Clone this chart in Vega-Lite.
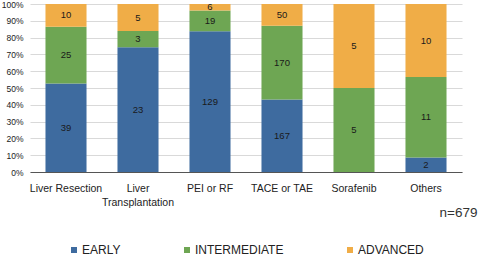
{
  "$schema": "https://vega.github.io/schema/vega-lite/v6.json",
  "width": 432,
  "height": 168,
  "autosize": "none",
  "padding": {"left": 30, "top": 4, "right": 16, "bottom": 84},
  "background": "white",
  "config": {
    "view": {"stroke": null},
    "font": "Liberation Sans"
  },
  "data": {
    "values": [
      {"treatment": "Liver Resection", "stage": "EARLY", "order": 1, "value": 39},
      {"treatment": "Liver Resection", "stage": "INTERMEDIATE", "order": 2, "value": 25},
      {"treatment": "Liver Resection", "stage": "ADVANCED", "order": 3, "value": 10},
      {"treatment": "Liver Transplantation", "stage": "EARLY", "order": 1, "value": 23},
      {"treatment": "Liver Transplantation", "stage": "INTERMEDIATE", "order": 2, "value": 3},
      {"treatment": "Liver Transplantation", "stage": "ADVANCED", "order": 3, "value": 5},
      {"treatment": "PEI or RF", "stage": "EARLY", "order": 1, "value": 129},
      {"treatment": "PEI or RF", "stage": "INTERMEDIATE", "order": 2, "value": 19},
      {"treatment": "PEI or RF", "stage": "ADVANCED", "order": 3, "value": 6},
      {"treatment": "TACE or TAE", "stage": "EARLY", "order": 1, "value": 167},
      {"treatment": "TACE or TAE", "stage": "INTERMEDIATE", "order": 2, "value": 170},
      {"treatment": "TACE or TAE", "stage": "ADVANCED", "order": 3, "value": 50},
      {"treatment": "Sorafenib", "stage": "EARLY", "order": 1, "value": 0},
      {"treatment": "Sorafenib", "stage": "INTERMEDIATE", "order": 2, "value": 5},
      {"treatment": "Sorafenib", "stage": "ADVANCED", "order": 3, "value": 5},
      {"treatment": "Others", "stage": "EARLY", "order": 1, "value": 2},
      {"treatment": "Others", "stage": "INTERMEDIATE", "order": 2, "value": 11},
      {"treatment": "Others", "stage": "ADVANCED", "order": 3, "value": 10}
    ]
  },
  "encoding": {
    "x": {
      "field": "treatment",
      "type": "nominal",
      "sort": null,
      "scale": {"paddingInner": 0.43, "paddingOuter": 0.215},
      "axis": {
        "title": "n=679",
        "titleFontSize": 13.5,
        "titleFontWeight": "normal",
        "titleColor": "#333333",
        "titleAnchor": "end",
        "titleAlign": "right",
        "titleBaseline": "middle",
        "titleX": 447,
        "titleY": 40,
        "labelAngle": 0,
        "labelFontSize": 10.5,
        "labelColor": "#222222",
        "labelPadding": 11,
        "labelLineHeight": 14,
        "labelExpr": "datum.value == 'Liver Transplantation' ? ['Liver', 'Transplantation'] : datum.label",
        "ticks": false,
        "domainColor": "#555555",
        "domainWidth": 1
      }
    },
    "order": {"field": "order", "type": "quantitative"},
    "color": {
      "field": "stage",
      "type": "nominal",
      "sort": ["EARLY", "INTERMEDIATE", "ADVANCED"],
      "scale": {
        "domain": ["EARLY", "INTERMEDIATE", "ADVANCED"],
        "range": ["#3e6b9f", "#6ea653", "#f0ad47"]
      },
      "legend": {
        "title": null,
        "orient": "none",
        "direction": "horizontal",
        "legendX": 38,
        "legendY": 240,
        "symbolType": "square",
        "symbolSize": 36,
        "symbolStrokeWidth": 0,
        "labelFontSize": 12,
        "labelColor": "#222222",
        "labelOffset": 2,
        "columnPadding": 60
      }
    }
  },
  "layer": [
    {
      "mark": {"type": "bar"},
      "encoding": {
        "y": {
          "field": "value",
          "type": "quantitative",
          "stack": "normalize",
          "axis": {
            "title": null,
            "format": ".0%",
            "values": [0, 0.1, 0.2, 0.3, 0.4, 0.5, 0.6, 0.7, 0.8, 0.9, 1],
            "labelFontSize": 8.5,
            "labelColor": "#222222",
            "labelPadding": 7,
            "labelOverlap": false,
            "ticks": false,
            "domain": false,
            "gridColor": "#d9d9d9",
            "gridWidth": 1
          }
        }
      }
    },
    {
      "transform": [{"filter": "datum.value > 0"}],
      "mark": {"type": "text", "fontSize": 9.5, "baseline": "middle"},
      "encoding": {
        "y": {
          "field": "value",
          "type": "quantitative",
          "stack": "normalize",
          "bandPosition": 0.5,
          "axis": {
            "title": null,
            "format": ".0%",
            "values": [0, 0.1, 0.2, 0.3, 0.4, 0.5, 0.6, 0.7, 0.8, 0.9, 1],
            "labelFontSize": 8.5,
            "labelColor": "#222222",
            "labelPadding": 7,
            "labelOverlap": false,
            "ticks": false,
            "domain": false,
            "gridColor": "#d9d9d9",
            "gridWidth": 1
          }
        },
        "text": {"field": "value", "type": "quantitative"},
        "fill": {"value": "#1a1a1a"}
      }
    }
  ]
}
